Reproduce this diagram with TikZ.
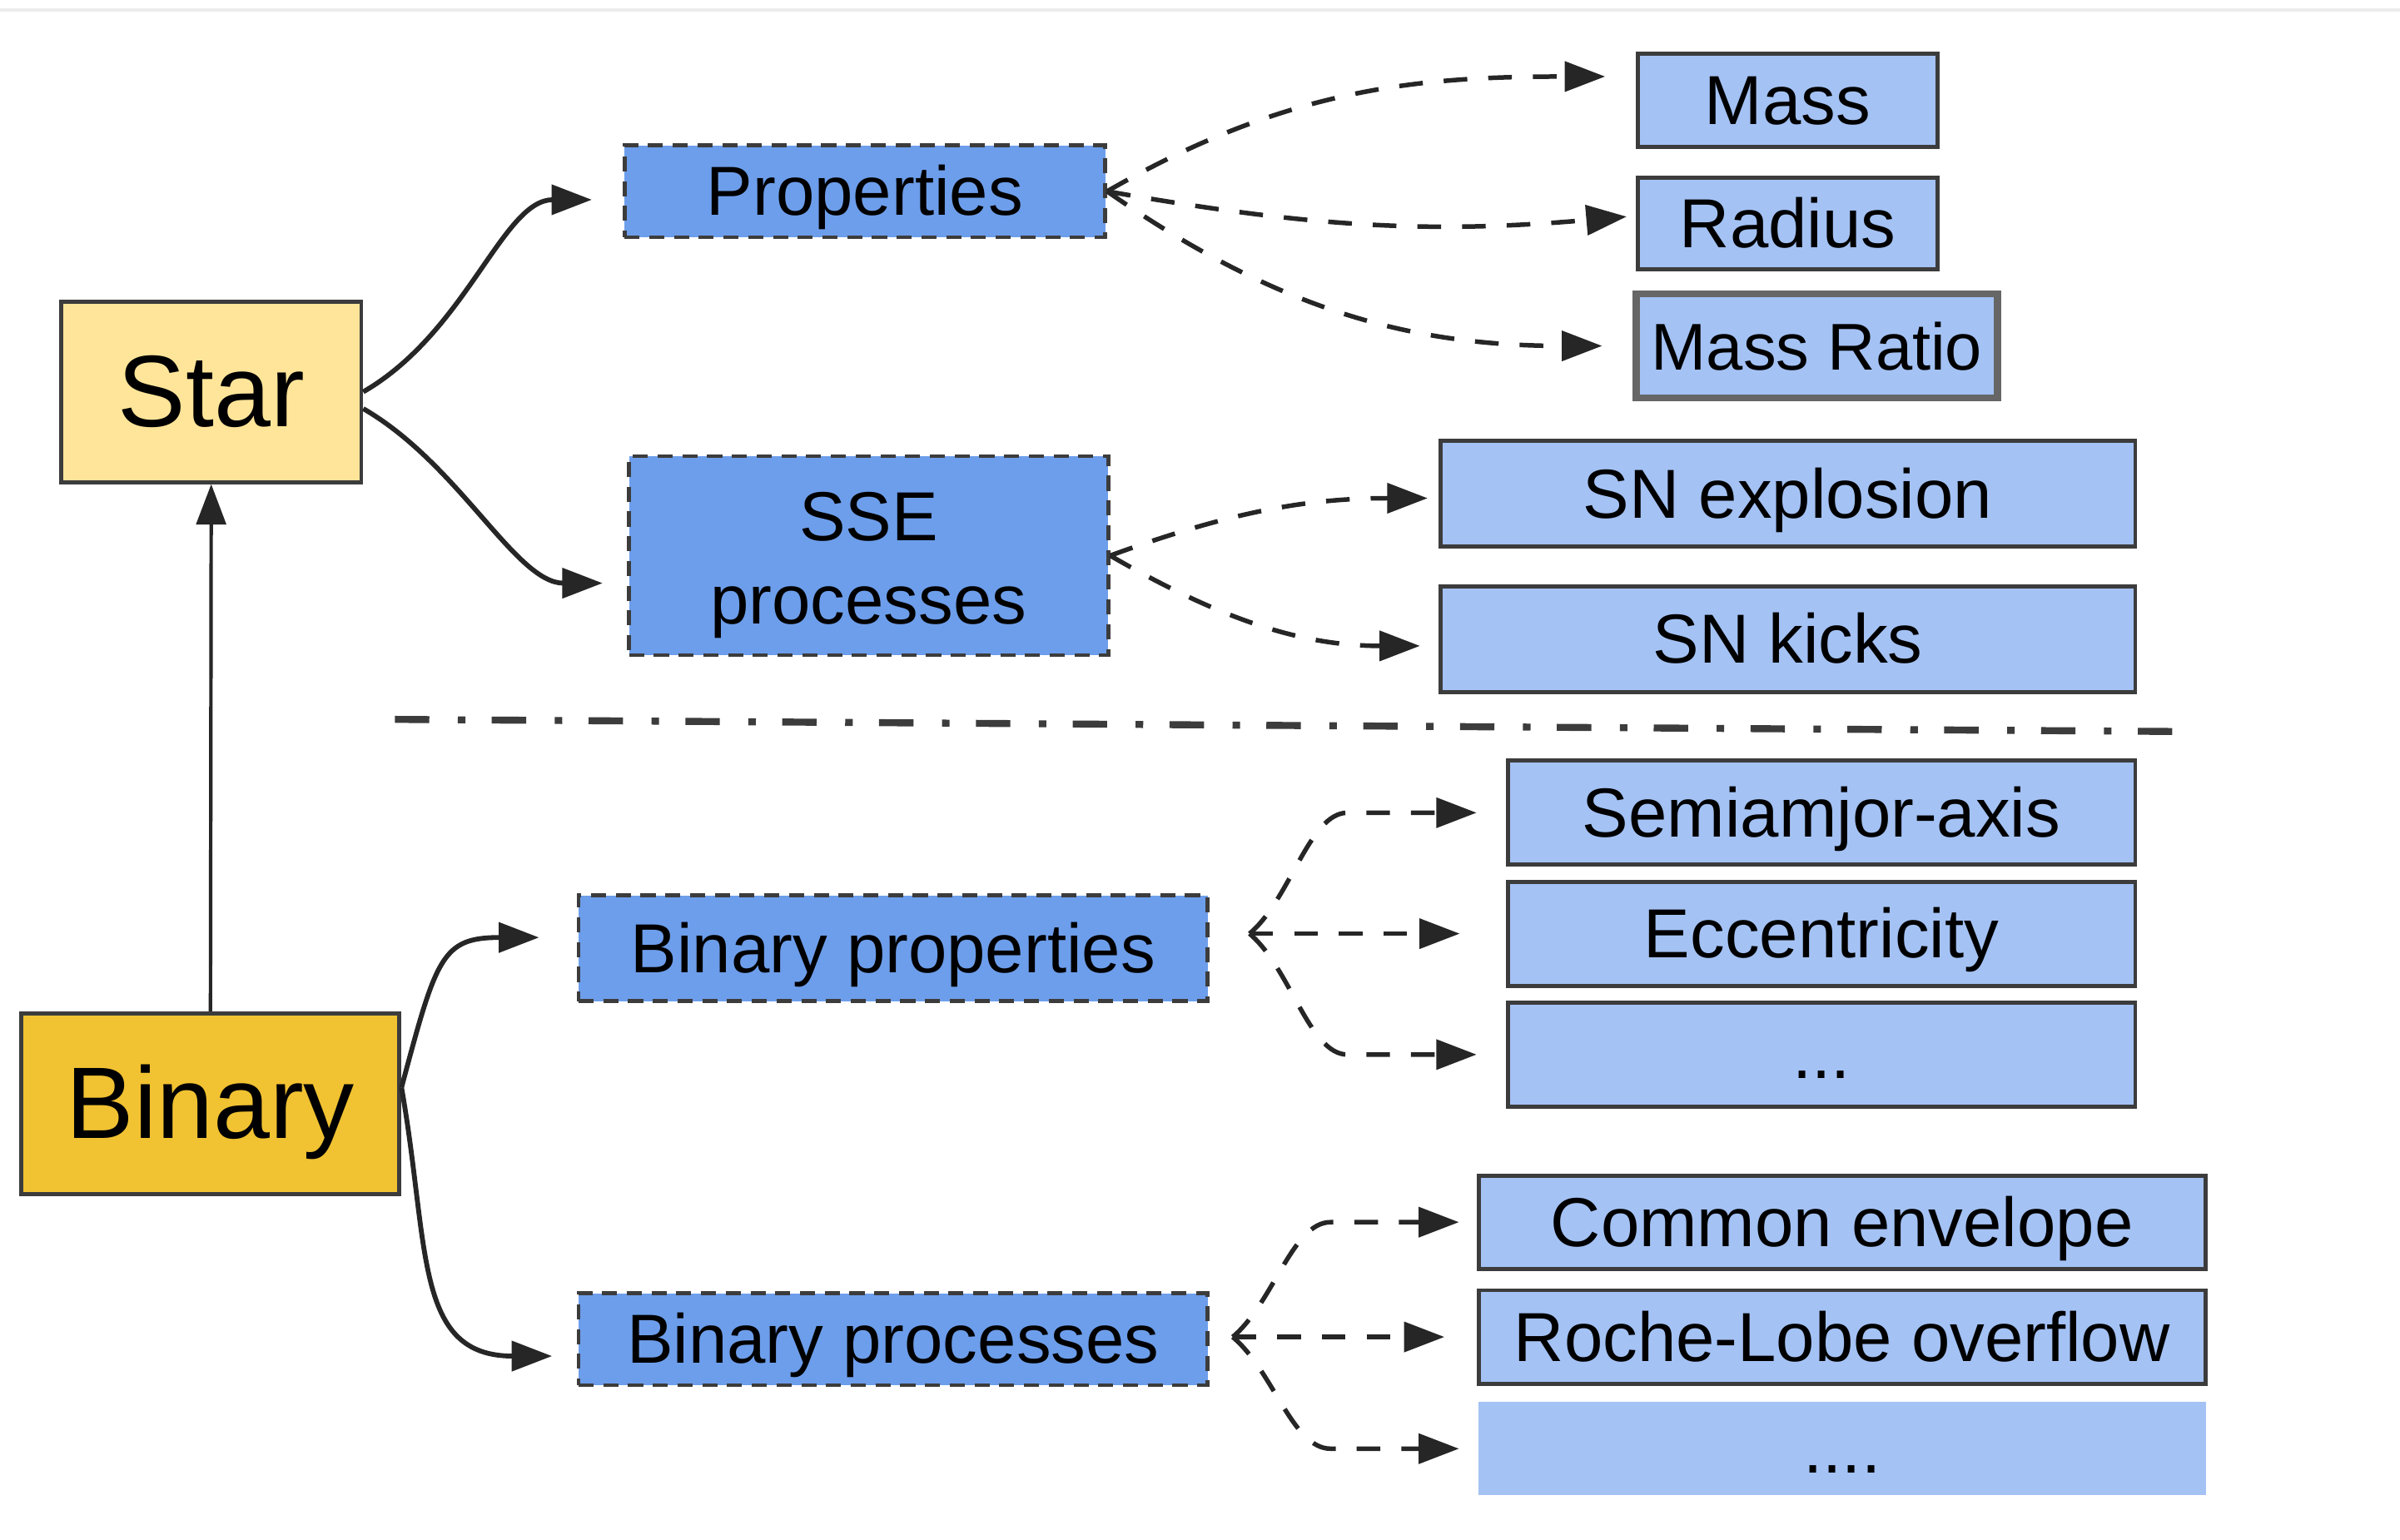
\documentclass[tikz,border=0pt]{standalone}
\usepackage{fontspec}
\setmainfont{Liberation Sans}
\usetikzlibrary{arrows.meta,positioning}
\definecolor{starfill}{HTML}{FFE599}
\definecolor{binaryfill}{HTML}{F1C232}
\definecolor{groupfill}{HTML}{6D9EEB}
\definecolor{leaffill}{HTML}{A4C2F4}
\definecolor{boxline}{HTML}{3C3C3C}
\definecolor{ratioline}{HTML}{666666}
\definecolor{ink}{HTML}{262626}

\begin{document}
\begin{tikzpicture}
  [on grid,>={Triangle[length=7.5pt,width=5.5pt]},
  root/.style={draw=boxline,line width=0.75pt,inner sep=0pt,minimum height=11.8mm,
    text height=14.9pt,text depth=1.9pt,font=\fontsize{18.9pt}{22pt}\selectfont},
  group/.style={draw=boxline,fill=groupfill,line width=0.75pt,dash pattern=on 2.8pt off 1.8pt,
    inner sep=0pt,align=center,font=\fontsize{12.9pt}{15.5pt}\selectfont},
  single/.style={text height=10pt,text depth=1pt},
  leaf/.style={single,draw=boxline,fill=leaffill,line width=0.75pt,inner sep=0pt,
    font=\fontsize{12.9pt}{15.5pt}\selectfont},
  flow/.style={->,draw=ink,line width=0.9pt},
  link/.style={->,draw=ink,line width=0.85pt,dash pattern=on 4.4pt off 3.9pt}]
  \useasboundingbox (0,0) rectangle (15.68,10.06);
  \draw[gray!15,line width=0.5pt] (0,9.995) -- (15.68,9.995);

  \node[root,fill=starfill,minimum width=19.6mm] (star) at (1.38,7.50) {Star};
  \node[root,fill=binaryfill,minimum width=24.7mm] (binary) at (1.375,2.85) {Binary};

  \node[group,single,minimum width=31.4mm,minimum height=6mm] (props) at (5.65,8.81) {Properties};
  \node[group,minimum width=31.3mm,minimum height=13mm] (sse) at (5.675,6.43) {\rule{0pt}{12.6pt}SSE\\processes};
  \node[leaf,minimum width=19.6mm,minimum height=6.1mm] (mass) at (11.68,9.405) {Mass};
  \node[leaf,minimum width=19.6mm,minimum height=6mm] (radius) [below=8.05mm of mass] {Radius};
  \node[leaf,draw=ratioline,line width=1.3pt,minimum width=23.6mm,minimum height=6.8mm,
    font=\fontsize{12.3pt}{15pt}\selectfont] (ratio) [below=8mm of radius,xshift=1.9mm] {Mass Ratio};
  \node[leaf,minimum width=45.4mm,minimum height=6.9mm] (snexp) at (11.68,6.835) {SN explosion};
  \node[leaf,minimum width=45.4mm,minimum height=6.9mm] (snkick) [below=9.5mm of snexp] {SN kicks};

  \coordinate (sepL) at (2.58,5.36);
  \coordinate (sepR) at (14.32,5.28);
  \draw[boxline,line width=1.3pt,dash pattern=on 6.4pt off 5.3pt on 1.4pt off 4.9pt] (sepL) -- (sepR);

  \node[group,single,minimum width=41.1mm,minimum height=6.9mm] (bprops) at (5.835,3.865) {Binary properties};
  \node[group,single,minimum width=41.1mm,minimum height=6mm] (bproc) at (5.835,1.31) {Binary processes};
  \node[leaf,minimum width=41mm,minimum height=6.8mm] (semi) at (11.90,4.75) {Semiamjor-axis};
  \node[leaf,minimum width=41mm,minimum height=6.8mm] (ecc) [below=7.9mm of semi] {Eccentricity};
  \node[leaf,minimum width=41mm,minimum height=6.8mm] (more) [below=7.9mm of ecc] {...};
  \node[leaf,minimum width=47.5mm,minimum height=6.1mm] (common) at (12.035,2.075) {Common envelope};
  \node[leaf,minimum width=47.5mm,minimum height=6.1mm] (roche) [below=7.5mm of common] {Roche-Lobe overflow};
  \node[leaf,draw=none,minimum width=47.5mm,minimum height=6.1mm] (etc) [below=7.3mm of roche] {....};

  \draw[->,draw=ink,line width=0.65pt] (binary.north) -- (star.south);
  \draw[flow,shorten >=2mm] (star.east) to[out=30,in=180,looseness=0.95] ([yshift=-0.55mm]props.west);
  \draw[flow,shorten >=1.6mm] ([yshift=-1.1mm]star.east) to[out=-30,in=180,looseness=0.9] ([yshift=-1.8mm]sse.west);
  \draw[flow,shorten >=2.45mm] ([yshift=1.05mm]binary.east) to[out=75,in=180,looseness=1.5] ([yshift=0.7mm]bprops.west);
  \draw[flow,shorten >=1.6mm] ([yshift=1.05mm]binary.east) to[out=-80,in=180,looseness=1.3] ([yshift=-1.1mm]bproc.west);

  \draw[link,shorten >=2mm] (props.east) to[out=30,in=180] ([yshift=1.55mm]mass.west);
  \draw[link,shorten >=0.6mm] (props.east) to[out=-10,in=185] ([yshift=0.5mm]radius.west);
  \draw[link,shorten >=2mm] (props.east) to[out=-35,in=180] (ratio.west);
  \draw[link,shorten >=0.7mm] (sse.east) to[out=20,in=180] ([yshift=-0.3mm]snexp.west);
  \draw[link,shorten >=1.2mm] (sse.east) to[out=-30,in=180] ([yshift=-0.45mm]snkick.west);

  \coordinate (bpfork) at ([xshift=2.6mm]bprops.east |- ecc.west);
  \draw[link,shorten >=3mm] (bpfork) -- (ecc.west);
  \draw[link,shorten >=1.9mm] (bpfork) .. controls +(40:3.5mm) and +(-2.5mm,0)
    .. ([xshift=6.4mm]bpfork |- semi.west) -- (semi.west);
  \draw[link,shorten >=1.9mm] (bpfork) .. controls +(-40:3.5mm) and +(-2.5mm,0)
    .. ([xshift=6.4mm]bpfork |- more.west) -- (more.west);

  \coordinate (bcfork) at ([xshift=1.5mm]bproc.east |- roche.west);
  \draw[link,shorten >=2.1mm] (bcfork) -- (roche.west);
  \draw[link,shorten >=1.15mm] (bcfork) .. controls +(40:3.5mm) and +(-2.5mm,0)
    .. ([xshift=6.4mm]bcfork |- common.west) -- (common.west);
  \draw[link,shorten >=1.15mm] (bcfork) .. controls +(-40:3.5mm) and +(-2.5mm,0)
    .. ([xshift=6.4mm]bcfork |- etc.west) -- (etc.west);
\end{tikzpicture}
\end{document}
